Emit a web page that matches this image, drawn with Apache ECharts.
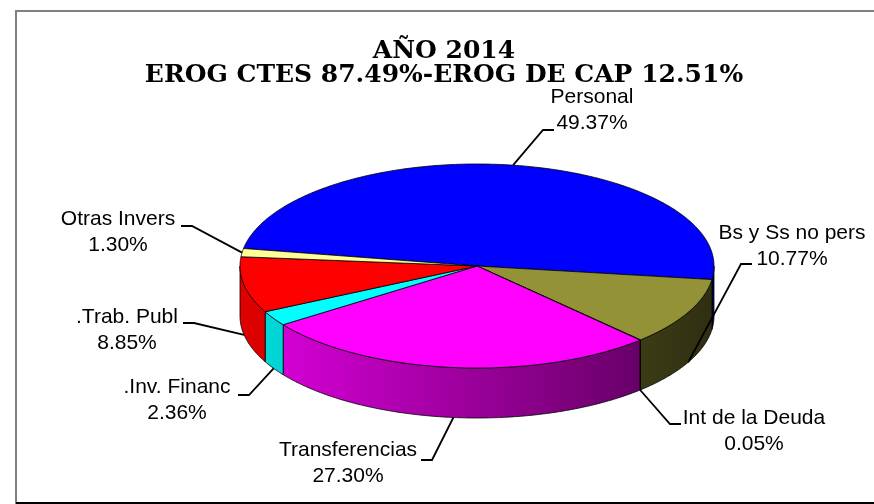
<!DOCTYPE html>
<html>
<head>
<meta charset="utf-8">
<script src="https://cdn.jsdelivr.net/npm/echarts@6/dist/echarts.min.js"></script>
<style>
  html, body { margin: 0; padding: 0; background: #fff; }
  #main { width: 874px; height: 504px; }
</style>
</head>
<body>
<div id="main"></div>
<script>
// data
var names = ['Personal', 'Bs y Ss no pers', 'Int de la Deuda', 'Transferencias', '.Inv. Financ', '.Trab. Publ', 'Otras Invers'];
var values = [49.37, 10.77, 0.05, 27.30, 2.36, 8.85, 1.30];

// style
var colors = ['#0000ff', '#949236', '#993366', '#ff00ff', '#00ffff', '#ff0000', '#ffff99'];

// layout of the 3d pie (ellipse of top face, wall depth, first slice angle clockwise from 3 o'clock)
var pie = { cx: 477, cy: 266, rx: 237, ry: 102, depth: 50, start: 189.9 };
// label block centre and the point where the leader line leaves the label
var labelLayout = [
  [592, 110, 554, 130],
  [792, 246, 752, 264],
  [754, 431, 681, 424],
  [348, 463, 421, 460],
  [177, 400, 238, 395],
  [127, 330, 183, 323],
  [118, 232, 181, 226]
];

var total = values.reduce(function (a, b) { return a + b; }, 0);
var starts = [];
var acc = pie.start;
for (var k = 0; k < values.length; k++) {
  starts.push(acc);
  acc += values[k] / total * 360;
}

function pt(a, dy) {
  var r = a * Math.PI / 180;
  return [pie.cx + pie.rx * Math.cos(r), pie.cy + pie.ry * Math.sin(r) + (dy || 0)];
}
function arc(a1, a2, dy) {
  var pts = [];
  var n = Math.max(2, Math.ceil((a2 - a1) / 0.5));
  for (var j = 0; j <= n; j++) pts.push(pt(a1 + (a2 - a1) * j / n, dy));
  return pts;
}
function shade(hex, f) {
  var c = echarts.color.parse(hex);
  return 'rgb(' + Math.round(c[0] * f) + ',' + Math.round(c[1] * f) + ',' + Math.round(c[2] * f) + ')';
}

function renderItem(params, api) {
  var i = params.dataIndex;
  var a1 = starts[i];
  var a2 = a1 + api.value(0) / total * 360;
  var children = [];

  // outer wall, only the front half is visible
  [[0, 180], [360, 540]].forEach(function (r) {
    var s = Math.max(a1, r[0]), e = Math.min(a2, r[1]);
    if (e <= s) return;
    var pts = arc(s, e, 0).concat(arc(s, e, pie.depth).reverse());
    children.push({
      type: 'polygon', z2: 1,
      shape: { points: pts },
      style: {
        fill: {
          type: 'linear', global: true,
          x: pie.cx - pie.rx, y: 0, x2: pie.cx + pie.rx, y2: 0,
          colorStops: [{ offset: 0, color: shade(colors[i], 0.88) }, { offset: 1, color: shade(colors[i], 0.32) }]
        },
        stroke: '#000', lineWidth: 0.8
      }
    });
  });

  // top face
  children.push({
    type: 'polygon', z2: 10,
    shape: { points: [[pie.cx, pie.cy]].concat(arc(a1, a2, 0)) },
    style: { fill: colors[i], stroke: '#000', lineWidth: 0.8 }
  });

  // label + leader line
  var mid = (a1 + a2) / 2;
  var m = mid % 360;
  var end = pt(mid, m > 0 && m < 180 ? pie.depth : 0);
  var L = labelLayout[i];
  var dir = end[0] > L[2] ? 1 : -1;
  children.push({
    type: 'polyline', z2: 20,
    shape: { points: [[L[2], L[3]], [L[2] + dir * 11, L[3]], end] },
    style: { stroke: '#000', lineWidth: 1.8, fill: null }
  });
  children.push({
    type: 'text', z2: 20,
    style: {
      text: names[i] + '\n' + (api.value(0) / total * 100).toFixed(2) + '%',
      x: L[0], y: L[1], align: 'center', verticalAlign: 'middle',
      fontSize: 21, fontFamily: 'Liberation Sans', lineHeight: 26, fill: '#000'
    }
  });
  return { type: 'group', children: children };
}

var myChart = echarts.init(document.getElementById('main'));
var option = {
  backgroundColor: '#fff',
  animation: false,
  graphic: [
    { type: 'rect', z: -1, shape: { x: 16, y: 11, width: 870, height: 492 }, style: { fill: null, stroke: '#808080', lineWidth: 2 } },
    { type: 'line', shape: { x1: 16, y1: 503, x2: 874, y2: 503 }, style: { stroke: '#000', lineWidth: 2 } },
    {
      type: 'text',
      style: {
        text: 'AÑO 2014\nEROG CTES 87.49%-EROG DE CAP 12.51%',
        x: 444, y: 39, align: 'center', verticalAlign: 'top',
        fontFamily: 'DejaVu Serif', fontWeight: 'bold', fontSize: 25, lineHeight: 24, fill: '#000'
      }
    }
  ],
  series: [{
    type: 'custom',
    coordinateSystem: 'none',
    silent: true,
    renderItem: renderItem,
    data: values.map(function (v, i) { return [v, i]; })
  }]
};
myChart.setOption(option);
</script>
</body>
</html>
